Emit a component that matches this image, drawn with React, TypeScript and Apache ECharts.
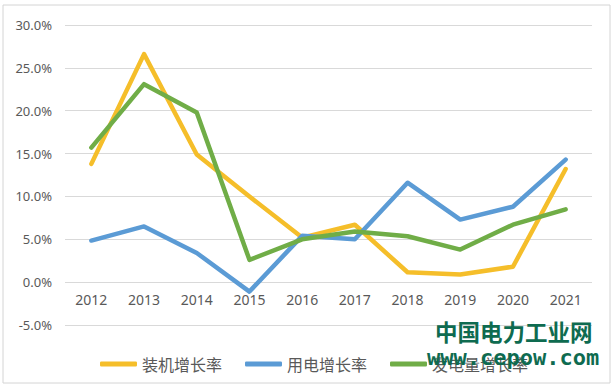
import React, { useEffect, useRef } from "react";
import * as echarts from "echarts";

const years = ["2012", "2013", "2014", "2015", "2016", "2017", "2018", "2019", "2020", "2021"];
const installedGrowth = [13.8, 26.6, 14.9, 10.0, 5.2, 6.7, 1.15, 0.9, 1.8, 13.2];
const consumptionGrowth = [4.85, 6.5, 3.4, -1.1, 5.4, 5.0, 11.6, 7.3, 8.8, 14.3];
const generationGrowth = [15.7, 23.1, 19.8, 2.6, 5.0, 5.9, 5.35, 3.8, 6.7, 8.5];
const seriesNames = ["装机增长率", "用电增长率", "发电量增长率"];
const colors = ["#F5BE2A", "#5B9BD5", "#70AD47"];
const yMin = -5;
const yMax = 30;

export default function App() {
  const ref = useRef<HTMLDivElement>(null);
  useEffect(() => {
    if (!ref.current) return;
    const chart = echarts.init(ref.current, null, { renderer: "svg" });
    const data = [installedGrowth, consumptionGrowth, generationGrowth];
    const gridTop = 25;
    const gridBottom = 63;
    const gridHeight = 388 - gridTop - gridBottom;
    // shift the category axis up so that it sits on the 0% line
    const zeroOffset = -(gridHeight * (0 - yMin)) / (yMax - yMin);
    chart.setOption({
      animation: false,
      backgroundColor: "#ffffff",
      grid: { left: 65, right: 22, top: gridTop, bottom: gridBottom, containLabel: false },
      legend: {
        left: 95,
        top: 351,
        icon: "roundRect",
        itemWidth: 37,
        itemHeight: 5,
        itemGap: 23,
        textStyle: { fontSize: 16, color: "#595959", fontFamily: "Noto Sans CJK SC" },
        data: seriesNames,
      },
      xAxis: {
        type: "category",
        data: years,
        boundaryGap: true,
        offset: zeroOffset,
        axisLine: { show: false, onZero: false },
        axisTick: { show: false },
        axisLabel: { fontSize: 14, color: "#595959", margin: 10, fontFamily: "Noto Sans" },
        splitLine: { show: false },
      },
      yAxis: {
        type: "value",
        min: yMin,
        max: yMax,
        interval: 5,
        axisLine: { show: false },
        axisTick: { show: false },
        axisLabel: {
          fontSize: 13,
          color: "#595959",
          margin: 13,
          fontFamily: "Noto Sans",
          formatter: (v: number) => v.toFixed(1) + "%",
        },
        splitLine: { lineStyle: { color: "#d9d9d9", width: 1 } },
      },
      series: seriesNames.map((name, i) => ({
        name,
        type: "line",
        data: data[i],
        symbol: "none",
        itemStyle: { color: colors[i] },
        lineStyle: { color: colors[i], width: 4.5, join: "round", cap: "round" },
      })),
      graphic: [
        {
          type: "rect",
          shape: { x: 3, y: 5, width: 607, height: 378 },
          style: { fill: "none", stroke: "#d4d4d4", lineWidth: 1 },
          silent: true,
        },
        {
          type: "text",
          x: 435,
          y: 320,
          z: 100,
          style: {
            text: "中国电力工业网",
            fill: "#0e6b50",
            font: "bold 22.5px 'Noto Sans CJK SC'",
          },
        },
        {
          type: "text",
          x: 427,
          y: 346,
          z: 100,
          style: {
            text: "www.cepow.com",
            fill: "#0e6b50",
            font: "bold 22px 'DejaVu Sans Mono'",
          },
        },
      ],
    });
    return () => chart.dispose();
  }, []);
  return (
    <div
      ref={ref}
      style={{ position: "fixed", left: 0, top: 0, width: 614, height: 388 }}
    />
  );
}
